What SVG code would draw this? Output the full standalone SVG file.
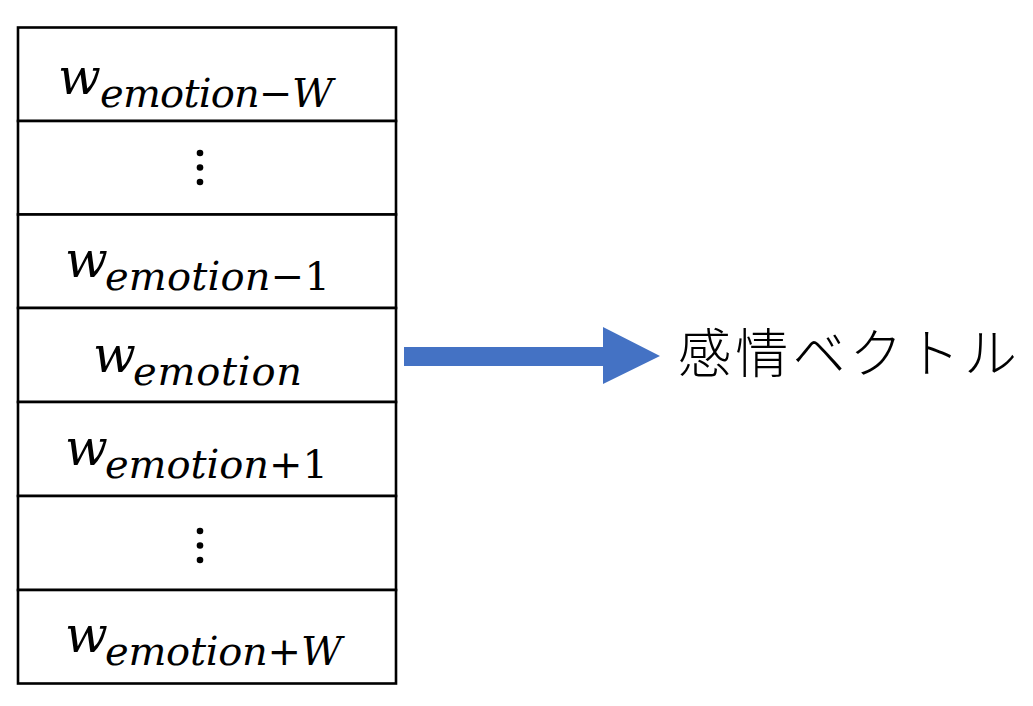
<svg xmlns="http://www.w3.org/2000/svg" width="1033" height="706" viewBox="0 0 1033 706">
<style>
.cell{fill:#fff;stroke:#000;stroke-width:2.6}
.w{font-family:"DejaVu Serif",serif;font-style:italic;font-size:50px;fill:#000}
.sub{font-family:"DejaVu Serif",serif;font-style:italic;font-size:40px;fill:#000}
.op{font-style:normal}
.dot{fill:#000}
.lbl{font-family:"Noto Sans CJK JP","Noto Sans",sans-serif;font-size:53px;font-weight:300;fill:#000}
</style>
<rect width="1033" height="706" fill="#fff"/>
<g id="cell1">
<rect class="cell" x="18" y="27.5" width="378" height="93.5"/>
<text class="w" x="58" y="94" textLength="40">w</text>
<text class="sub" x="100" y="107" textLength="233">emotion<tspan class="op">−</tspan>W</text>
</g>
<g id="cell2">
<rect class="cell" x="18" y="121" width="378" height="93.5"/>
<circle class="dot" cx="200" cy="153" r="3.3"/>
<circle class="dot" cx="200" cy="167.5" r="3.3"/>
<circle class="dot" cx="200" cy="182" r="3.3"/>
</g>
<g id="cell3">
<rect class="cell" x="18" y="214.5" width="378" height="93.5"/>
<text class="w" x="65" y="277" textLength="39">w</text>
<text class="sub" x="105" y="290" textLength="225">emotion<tspan class="op">−1</tspan></text>
</g>
<g id="cell4">
<rect class="cell" x="18" y="308" width="378" height="94"/>
<text class="w" x="93" y="372" textLength="39">w</text>
<text class="sub" x="133" y="385" textLength="169">emotion</text>
</g>
<g id="cell5">
<rect class="cell" x="18" y="402" width="378" height="94"/>
<text class="w" x="65" y="465" textLength="39">w</text>
<text class="sub" x="105" y="478" textLength="223">emotion<tspan class="op">+1</tspan></text>
</g>
<g id="cell6">
<rect class="cell" x="18" y="496" width="378" height="94"/>
<circle class="dot" cx="200" cy="531" r="3.3"/>
<circle class="dot" cx="200" cy="545.5" r="3.3"/>
<circle class="dot" cx="200" cy="560" r="3.3"/>
</g>
<g id="cell7">
<rect class="cell" x="18" y="590" width="378" height="93.5"/>
<text class="w" x="65" y="652" textLength="39">w</text>
<text class="sub" x="105" y="665" textLength="237">emotion<tspan class="op">+</tspan>W</text>
</g>
<g id="connectors">
<polygon points="404,347 603,347 603,327 660,356 603,384 603,366 404,366" fill="#4472C4"/>
</g>
<g id="output">
<text class="lbl" x="678" y="373" textLength="339">感情ベクトル</text>
</g>
</svg>
